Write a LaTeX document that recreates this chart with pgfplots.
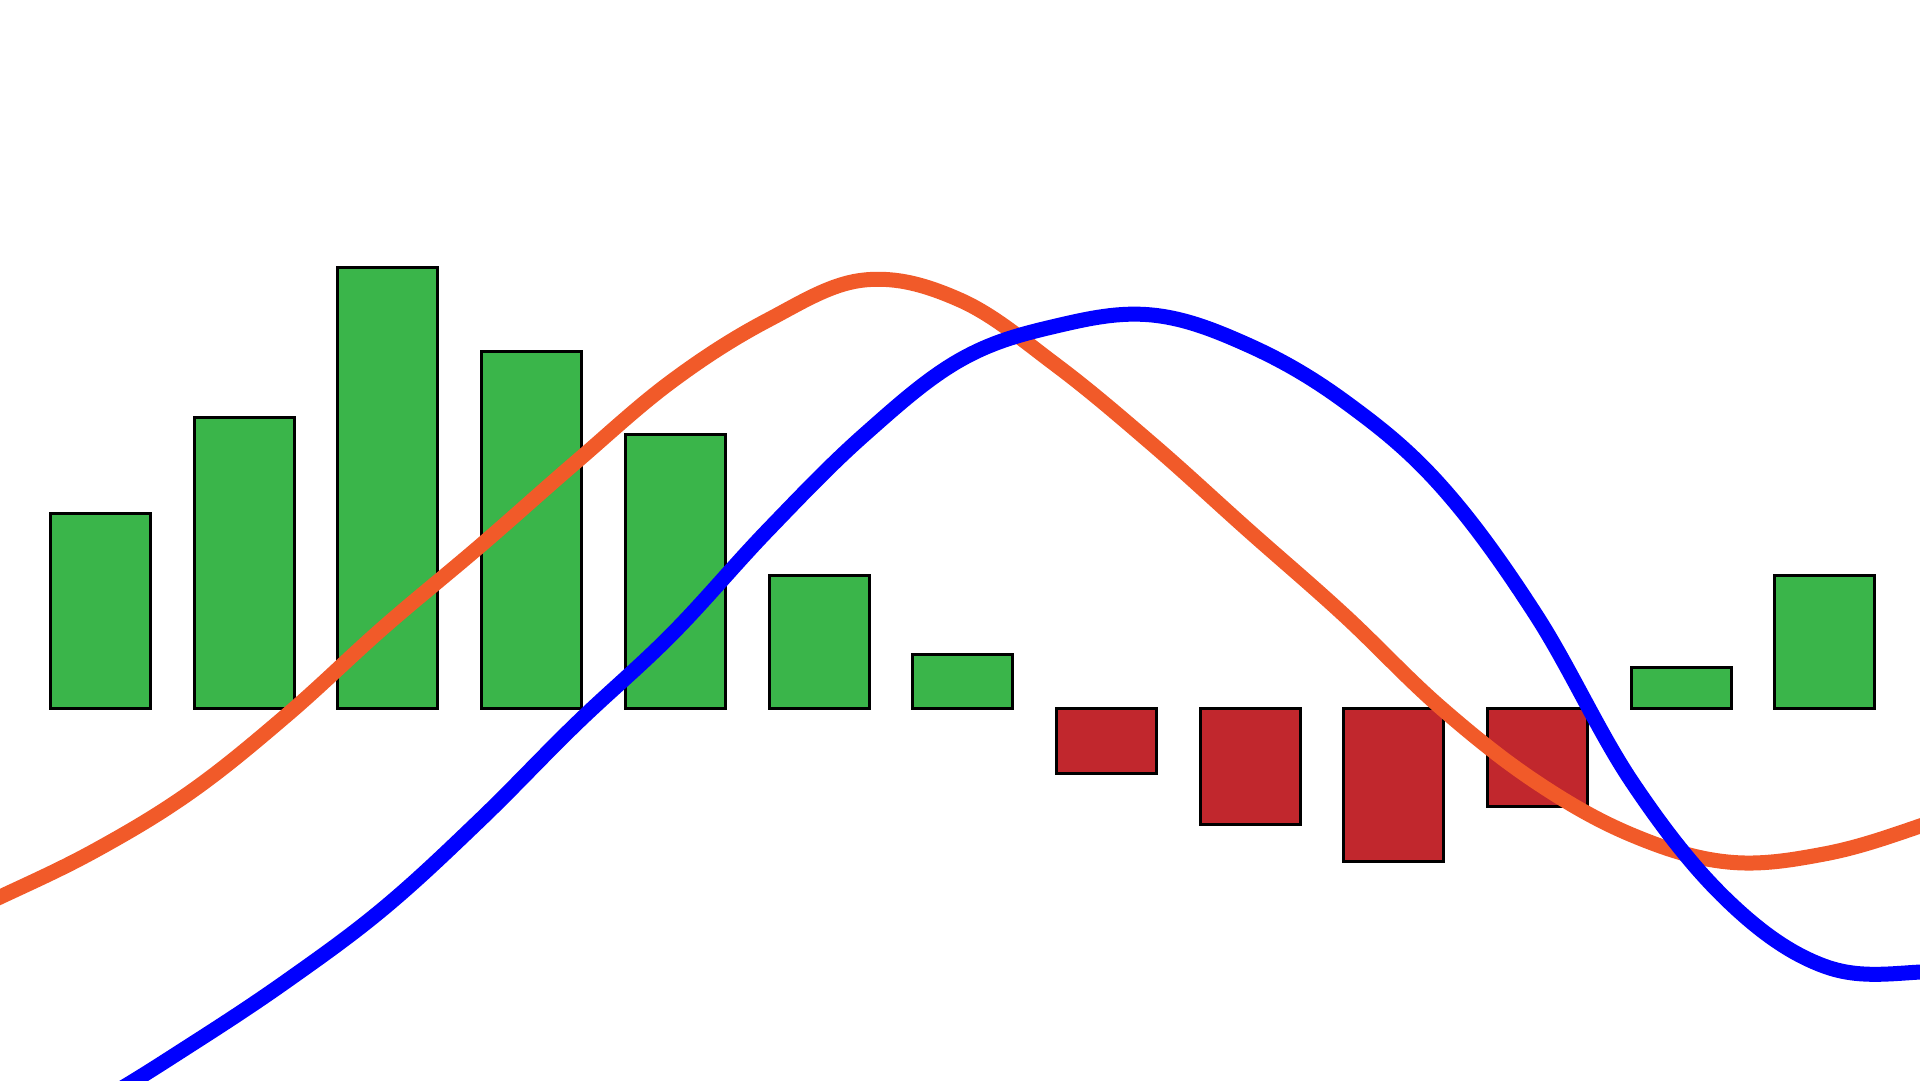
\documentclass[border=0pt]{standalone}
\usepackage{pgfplots}
\pgfplotsset{compat=1.18}
\definecolor{bargreen}{HTML}{3AB54A}
\definecolor{barred}{HTML}{C1272D}
\definecolor{lorange}{HTML}{F15A29}
\definecolor{lblue}{HTML}{0000FF}
\begin{document}
\begin{tikzpicture}
\begin{axis}[
  scale only axis, width=192mm, height=108mm,
  xmin=0, xmax=1920, ymin=-372, ymax=708,
  hide axis, clip=true,
]
\addplot[ybar, bar width=100, bar shift=0pt, fill=bargreen, draw=black, line width=0.3mm]
  coordinates {(100.5,194.7) (244.2,290.7) (387.9,440.7) (531.6,356.7) (675.3,273.7)
               (819.0,132.7) (962.7,53.7) (1681.2,40.7) (1824.9,132.7)};
\addplot[ybar, bar width=100, bar shift=0pt, fill=barred, draw=black, line width=0.3mm]
  coordinates {(1106.4,-65.7) (1250.1,-116.7) (1393.8,-153.7) (1537.5,-98.7)};
\addplot[smooth, tension=0.62, lorange, line width=1.5mm] coordinates {
  (-96,-232) (0,-189) (96,-142) (192,-83) (288,-6) (384,81) (480,162) (576,246)
  (672,327) (768,388) (864,428) (960,408) (1056,343) (1152,264) (1248,178)
  (1344,93) (1440,1) (1536,-74) (1632,-127) (1728,-154) (1824,-146) (1920,-118) (2016,-80)};
\addplot[smooth, tension=0.62, lblue, line width=1.5mm] coordinates {
  (-96,-487) (0,-442) (96,-395) (192,-336) (288,-272) (384,-200) (480,-112) (576,-16)
  (672,74) (768,178) (864,273) (960,348) (1056,382) (1152,393) (1248,363)
  (1344,307) (1440,223) (1536,93) (1632,-74) (1728,-193) (1824,-258) (1920,-264) (2016,-247)};
\end{axis}
\pgfresetboundingbox
\useasboundingbox (current axis.south west) rectangle (current axis.north east);
\end{tikzpicture}
\end{document}
